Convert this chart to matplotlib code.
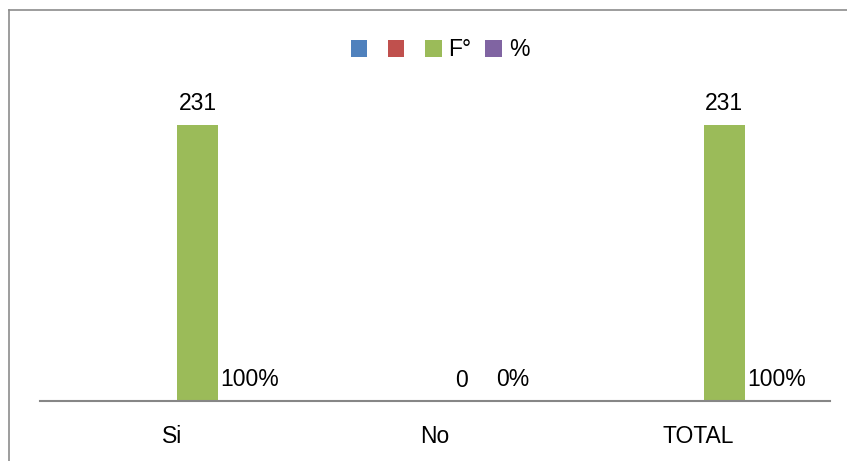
import matplotlib
matplotlib.use('Agg')
import matplotlib.pyplot as plt
import numpy as np
from matplotlib.lines import Line2D
from matplotlib.patches import Patch

plt.rcParams['font.family'] = ['Liberation Sans', 'DejaVu Sans']

categories = ['Si', 'No', 'TOTAL']
series_names = ['', '', 'F°', '%']
blue_vals = [0, 0, 0]
red_vals = [0, 0, 0]
freq_vals = [231, 0, 231]
pct_vals = [1, 0, 1]
pct_labels = ['100%', '0%', '100%']

colors = ['#4F81BD', '#C0504D', '#9BBB59', '#8064A2']
fs = 16.5

fig = plt.figure(figsize=(8.47, 4.61), dpi=100)
ax = fig.add_axes([40/847, 60/461, 790/847, 299/461])

x = np.arange(len(categories))
pitch = 0.1975
width = 0.156
all_vals = [blue_vals, red_vals, freq_vals, pct_vals]
bars = []
for i, vals in enumerate(all_vals):
    b = ax.bar(x + (i - 1.5) * pitch, vals, width, color=colors[i])
    bars.append(b)

# data labels
for j, v in enumerate(freq_vals):
    r = bars[2][j]
    ax.annotate(str(v), (r.get_x() + r.get_width() / 2, v), xytext=(0, 15),
                textcoords='offset points', ha='center', va='center', fontsize=fs)
for j, v in enumerate(pct_vals):
    r = bars[3][j]
    ax.annotate(pct_labels[j], (r.get_x() + r.get_width() / 2, 0), xytext=(0, 15.5),
                textcoords='offset points', ha='center', va='center', fontsize=fs)

ax.set_xlim(-0.5, 2.5)
ax.set_ylim(0, 250)
ax.set_xticks(x)
ax.set_xticklabels(categories, fontsize=fs)
ax.tick_params(axis='x', length=0, pad=17.5)
ax.set_yticks([])
for s in ['top', 'right', 'left']:
    ax.spines[s].set_visible(False)
ax.spines['bottom'].set_color('#868686')
ax.spines['bottom'].set_linewidth(1.5)

handles = [Patch(facecolor=c) for c in colors]
fig.legend(handles, series_names, loc='center', bbox_to_anchor=(440/847, 1 - 50/461),
           ncol=4, frameon=False, fontsize=fs, handlelength=0.72, handleheight=0.72,
           handletextpad=0.3, columnspacing=0.6)

# chart border (left and top visible)
fig.add_artist(Line2D([9/847, 9/847], [0, 1 - 10/461], color='#8c8c8c', lw=1.2))
fig.add_artist(Line2D([9/847, 1], [1 - 10/461, 1 - 10/461], color='#8c8c8c', lw=1.2))

fig.savefig('out.png', dpi=100)
